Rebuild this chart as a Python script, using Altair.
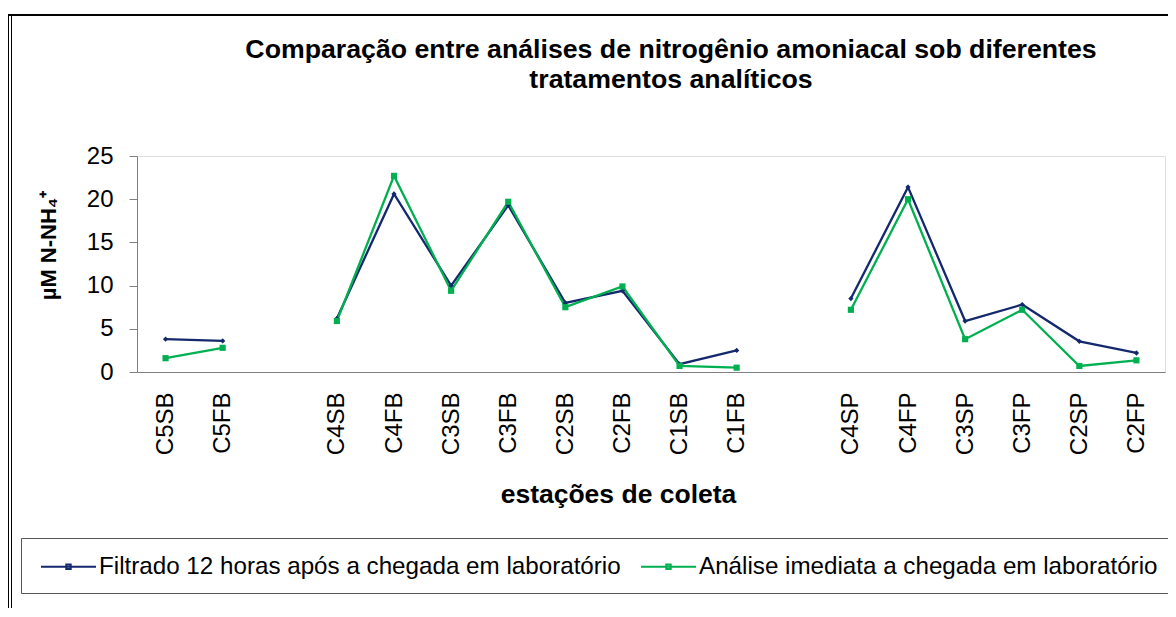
import altair as alt
import pandas as pd

# ---- data ----
estacoes = ["C5SB", "C5FB", " ", "C4SB", "C4FB", "C3SB", "C3FB", "C2SB", "C2FB",
            "C1SB", "C1FB", "  ", "C4SP", "C4FP", "C3SP", "C3FP", "C2SP", "C2FP"]
filtrado = [3.8, 3.6, None, 6.2, 20.6, 10.0, 19.3, 8.0, 9.4, 0.9, 2.5, None,
            8.5, 21.4, 5.9, 7.8, 3.55, 2.2]
imediata = [1.6, 2.8, None, 5.9, 22.7, 9.4, 19.7, 7.5, 9.9, 0.7, 0.5, None,
            7.2, 20.0, 3.8, 7.2, 0.7, 1.35]
series = ["Filtrado 12 horas após a chegada em laboratório",
          "Análise imediata a chegada em laboratório"]
cores = ["#14286E", "#00B050"]
y_ticks = [0, 5, 10, 15, 20, 25]
titulo = ["Comparação entre análises de nitrogênio amoniacal sob diferentes",
          "tratamentos analíticos"]

rows = []
for nome, vals in zip(series, [filtrado, imediata]):
    grupo = 0
    for est, v in zip(estacoes, vals):
        if v is None:
            grupo += 1
            continue
        rows.append({"estacao": est, "valor": v, "serie": nome,
                     "grupo": f"{nome}-{grupo}"})
df = pd.DataFrame(rows)

FONT = "Liberation Sans"
W, H = 1028, 216

x = alt.X("estacao:N", sort=estacoes, scale=alt.Scale(domain=estacoes),
          axis=alt.Axis(title="estações de coleta", labelAngle=-90, ticks=False,
                        domainColor="#808080", labelFontSize=24, labelPadding=20,
                        labelColor="black", labelFont=FONT,
                        titleFontSize=26.5, titleFontWeight="bold", titleFont=FONT,
                        titleColor="black", titleX=481, titleY=130,
                        titleBaseline="alphabetic", titleAlign="center"))
y = alt.Y("valor:Q", scale=alt.Scale(domain=[0, 25], nice=False),
          axis=alt.Axis(title="µM N-NH₄⁺", values=y_ticks, grid=False, tickSize=8,
                        tickColor="#808080", domainColor="#808080",
                        labelFontSize=24, labelPadding=16, labelColor="black",
                        labelFont=FONT, titleFont=FONT, titleFontSize=22,
                        titleFontWeight="bold", titleColor="black",
                        titleAngle=270, titleX=-89, titleY=89,
                        titleBaseline="middle", titleAlign="center"))

# legend symbol: line with marker; the trailing moves only widen/heighten the
# legend frame so that it runs past the right edge, as in the reference
leg = alt.Legend(title=None, orient="none", legendX=-116, legendY=382,
                 direction="horizontal", strokeColor="#555555",
                 fillColor="white", padding=0, labelFontSize=24.2,
                 labelFont=FONT, labelColor="black",
                 symbolType="M-1,0H1M-0.08,-0.08H0.08V0.08H-0.08ZM0,0.8M18,0",
                 symbolSize=3025, symbolStrokeWidth=2, symbolOffset=19,
                 labelOffset=2, columnPadding=0, labelLimit=0)

linhas = alt.Chart(df).mark_line(strokeWidth=2.3).encode(
    x=x, y=y,
    color=alt.Color("serie:N", scale=alt.Scale(domain=series, range=cores),
                    legend=leg),
    detail="grupo:N")
pts_f = alt.Chart(df).transform_filter(alt.datum.serie == series[0]).mark_point(
    shape="diamond", filled=True, size=28, color=cores[0], opacity=1).encode(x=x, y=y)
pts_i = alt.Chart(df).transform_filter(alt.datum.serie == series[1]).mark_square(
    size=38, color=cores[1], opacity=1).encode(x=x, y=y)

frame_df = pd.DataFrame({"a": [0]})
topo = alt.Chart(frame_df).mark_rule(color="black", strokeWidth=2).encode(
    x=alt.value(-129), x2=alt.value(1035), y=alt.value(-141))
esq1 = alt.Chart(frame_df).mark_rule(color="black", strokeWidth=1).encode(
    x=alt.value(-128.5), y=alt.value(-141), y2=alt.value(470))
esq2 = alt.Chart(frame_df).mark_rule(color="black", strokeWidth=1).encode(
    x=alt.value(-125.5), y=alt.value(-141), y2=alt.value(470))

chart = alt.layer(linhas, pts_f, pts_i, topo, esq1, esq2).properties(
    width=W, height=H,
    title=alt.TitleParams(text=titulo, fontSize=26.7, fontWeight="bold",
                          font=FONT, color="black", anchor="middle", dx=20,
                          offset=0, dy=80, lineHeight=30),
    autosize=alt.AutoSizeParams(type="none"),
    padding={"left": 129, "top": 148, "right": 3, "bottom": 236},
).configure_view(stroke=None).configure(font=FONT, background="white")

chart.save("out.html", embed_options={"renderer": "svg", "actions": False})
